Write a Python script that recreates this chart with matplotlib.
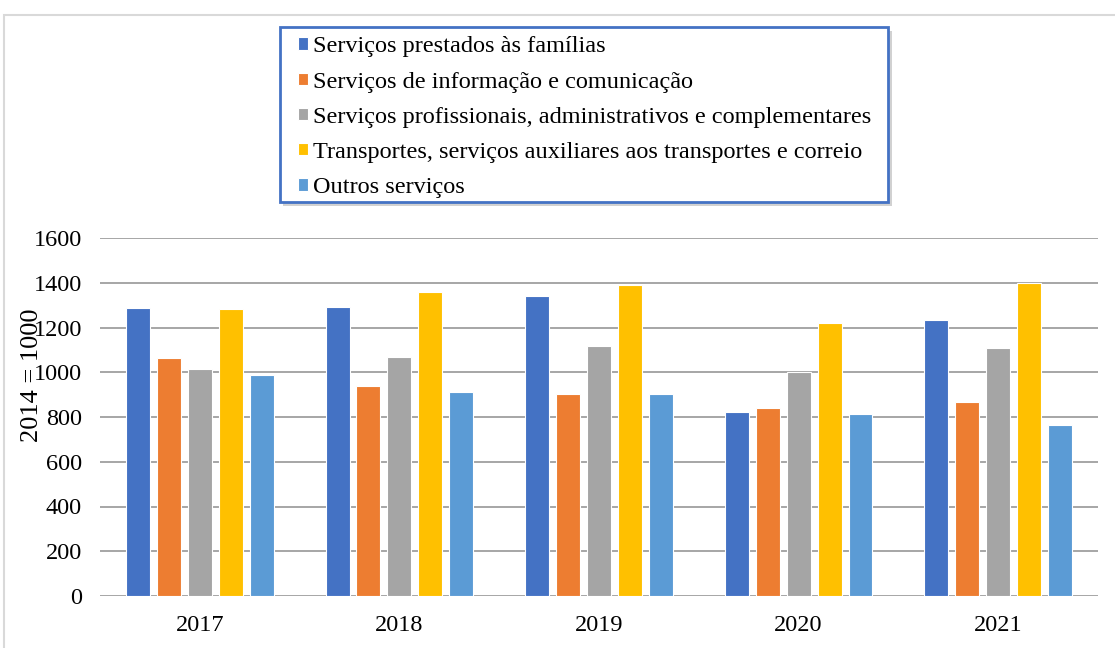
import matplotlib
matplotlib.use("Agg")
import matplotlib.pyplot as plt
from matplotlib.patches import Rectangle
import numpy as np

anos = ["2017", "2018", "2019", "2020", "2021"]
series = [
    "Serviços prestados às famílias",
    "Serviços de informação e comunicação",
    "Serviços profissionais, administrativos e complementares",
    "Transportes, serviços auxiliares aos transportes e correio",
    "Outros serviços",
]
familias = [1286, 1293, 1339, 822, 1235]
informacao = [1065, 939, 903, 840, 867]
profissionais = [1013, 1068, 1116, 1001, 1108]
transportes = [1281, 1357, 1388, 1220, 1400]
outros = [986, 912, 901, 812, 766]
cores = ["#4472C4", "#ED7D31", "#A5A5A5", "#FFC000", "#5B9BD5"]

plt.rcParams["font.family"] = ["Liberation Serif", "DejaVu Serif"]

W, H = 1115, 648
fig = plt.figure(figsize=(W / 100, H / 100), dpi=100)
ax = fig.add_axes([100 / W, 1 - 596 / H, 998 / W, 358 / H])


def caixa(x0, y0, x1, y1, **kw):
    # retângulo em pixels da figura (origem no canto superior esquerdo)
    r = Rectangle((x0 / W, 1 - y1 / H), (x1 - x0) / W, (y1 - y0) / H,
                  transform=fig.transFigure, **kw)
    fig.patches.append(r)
    return r


# moldura externa cinza clara
caixa(4, 15, W + 5, H + 5, fill=False, edgecolor="#D9D9D9", linewidth=1.5)

x = np.arange(len(anos))
passo = 0.155
largura = 0.12
valores = [familias, informacao, profissionais, transportes, outros]
for i, (nome, vals, cor) in enumerate(zip(series, valores, cores)):
    ax.bar(x + (i - 2) * passo, vals, width=largura, color=cor, label=nome,
           edgecolor="white", linewidth=0.8, zorder=3)

ax.set_xlim(-0.5, len(anos) - 0.5)
ax.set_ylim(0, 1600)
ax.set_yticks(range(0, 1601, 200))
ax.set_xticks(x)
ax.set_xticklabels(anos)
ax.grid(axis="y", color="#A6A6A6", linewidth=1.4, zorder=0)
for s in ax.spines.values():
    s.set_visible(False)
ax.tick_params(length=0, labelsize=17.5)
ax.tick_params(axis="x", pad=14)
ax.tick_params(axis="y", pad=13)
fig.text(32 / W, 1 - 375 / H, "2014 = 1000", rotation=90, fontsize=19,
         ha="center", va="center")

# caixa da legenda com sombra e borda azul
caixa(283, 31, 892, 206, facecolor="#9A9A9A", edgecolor="none", alpha=0.45)
caixa(280, 27, 888, 202, facecolor="white", edgecolor="#4472C4", linewidth=2)

leg = fig.legend(loc="upper left", bbox_to_anchor=(291 / W, 1 - 29 / H),
                 fontsize=17.5, handlelength=0.4, handleheight=0.4, handletextpad=0.2,
                 labelspacing=0.585, borderpad=0.3, borderaxespad=0, frameon=False)

fig.savefig("out.png", dpi=100)
